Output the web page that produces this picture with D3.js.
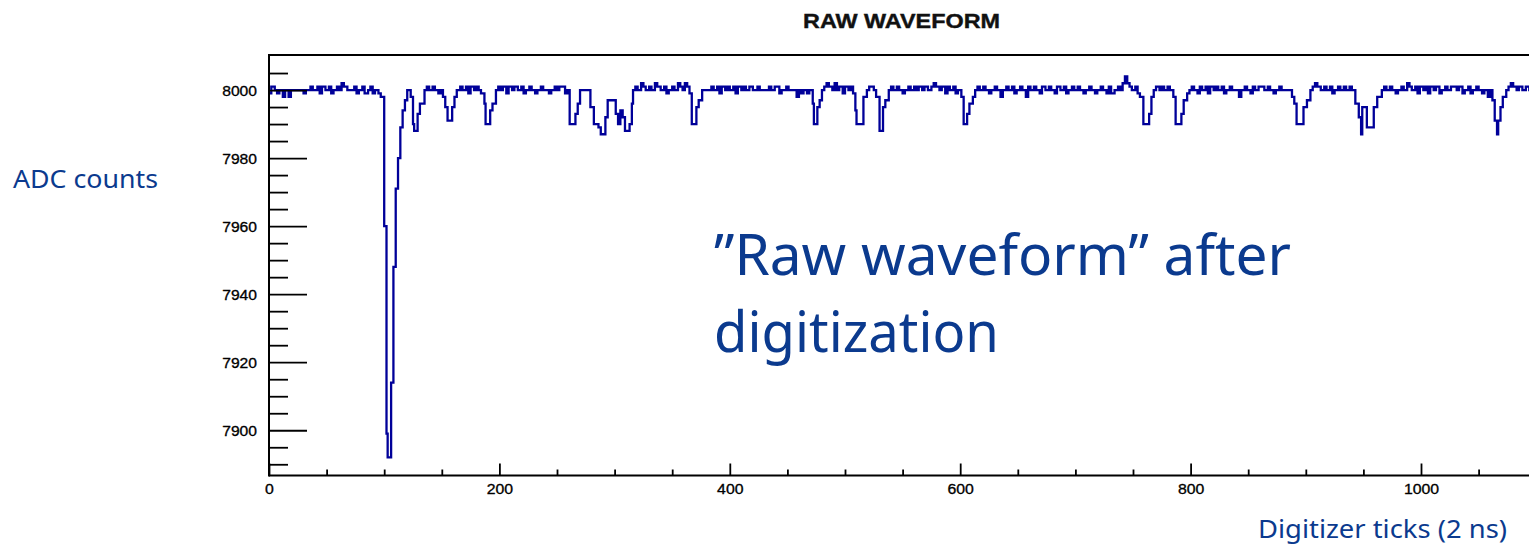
<!DOCTYPE html>
<html>
<head>
<meta charset="utf-8">
<script src="https://cdn.jsdelivr.net/npm/d3@7"></script>
<style>
  html, body { margin: 0; padding: 0; background: #ffffff; }
  svg { display: block; }
</style>
</head>
<body>
<svg id="chart" width="1529" height="547"></svg>
<script>
// Raw digitizer waveform, stored as runs: [first tick of run, ADC value]
const waveformRuns = [
  [0,7999],[2,8001],[5,8000],[7,7999],[9,8000],[12,7998],[14,8000],[17,7998],[19,8000],[22,8000],
  [30,7999],[32,8000],[36,8001],[38,8000],[42,8001],[44,7999],[46,8001],[49,8000],[52,8001],[54,7999],
  [56,8000],[59,8001],[61,8000],[63,8002],[65,8001],[68,8000],[74,8001],[76,7999],[78,8000],[81,8001],
  [83,7999],[86,8000],[88,8001],[90,7999],[92,8000],[95,7999],[97,7998],
  [100,7960],[102,7899],[103,7892],[106,7914],[108,7948],[110,7971],[112,7980],[114,7989],[116,7994],
  [118,7997],[120,8000],[123,7998],[125,7990],[126,7988],[129,7993],[131,7996],[135,8000],
  [137,8001],[139,8000],[142,8001],[144,8000],[147,7999],[149,8000],
  [151,7998],[153,7995],[155,7991],[159,7995],[161,7998],[163,8000],
  [166,8001],[168,8000],[171,8001],[173,7999],[175,8001],[178,8000],[180,8001],[182,8000],[184,7999],
  [187,7996],[188,7990],[192,7994],[194,7996],[197,8000],
  [199,8001],[201,8000],[203,8001],[206,7999],[208,8001],[211,8000],[213,8001],[216,8000],[219,8001],
  [221,7999],[223,8000],[226,8001],[228,8000],[231,7999],[233,8000],[236,8001],[238,8000],[243,7999],
  [245,8000],[248,8001],[250,8000],[252,8001],[257,7999],[259,8000],
  [261,7990],[266,7993],[268,7996],[270,8000],
  [279,7995],[282,7990],[286,7989],[288,7987],[292,7992],[294,7997],[301,7993],[303,7990],[305,7994],
  [307,7992],[309,7988],[313,7990],[315,7996],[316,8000],
  [318,8001],[320,8000],[323,8002],[325,8001],[327,8000],[330,8001],[332,8000],[335,8002],[337,8001],
  [340,8000],[343,8001],[345,7999],[347,8000],[350,8001],[352,8000],[355,8002],[357,8001],[359,8000],
  [361,8002],[363,8001],[365,7999],
  [367,7990],[371,7995],[373,7997],[376,8000],
  [384,8001],[386,8000],[389,8001],[391,7999],[393,8001],[396,8000],[398,8001],[400,8000],[403,8001],
  [405,7999],[407,8001],[410,8000],[412,8001],[414,8000],[417,8001],[420,8000],[424,8001],[426,8000],
  [434,8001],[436,8000],[439,8001],[443,7999],[445,8000],[449,8001],[451,8000],[458,7998],[460,8000],
  [462,7999],[464,8000],[467,7999],[469,8000],
  [472,7996],[473,7990],[476,7995],[478,7997],[480,8000],
  [482,8001],[484,8002],[486,8001],[489,8000],[491,8002],[493,8000],[495,8001],[498,7999],[500,8001],
  [503,8000],[505,8001],[507,7999],
  [509,7994],[510,7990],[516,7998],[519,8000],[521,8001],[525,8000],[527,7998],
  [530,7988],[533,7995],[535,7997],[538,8000],
  [540,8001],[542,8000],[545,8001],[547,8000],[550,7999],[552,8000],[555,8001],[557,8000],[560,8001],
  [562,8000],[564,8001],[567,8000],[569,8001],[572,8000],[575,8001],[577,8002],[579,8001],[582,8000],
  [584,8001],[587,7999],[589,8001],[591,8000],[594,8001],[596,7999],[598,8000],
  [601,7998],[603,7990],[606,7993],[608,7996],[611,7998],[613,8000],
  [615,8001],[617,8000],[620,8001],[622,8000],[625,7999],[627,8000],[630,8001],[632,8000],[635,7998],
  [637,8000],[640,8001],[642,8000],[645,8001],[647,7999],[649,8000],[652,8001],[654,8000],[657,7998],
  [659,8001],[661,8000],[664,8001],[666,8000],[669,7999],[671,8001],[674,8000],[677,8001],[679,8000],
  [682,7999],[684,8001],[687,8000],[690,8001],[692,7999],[694,8000],[697,8001],[699,8000],[702,8001],
  [704,8000],[707,7999],[709,8000],[712,8001],[714,8000],[717,7999],[719,8000],[722,8001],[724,8000],
  [727,7999],[729,8001],[731,7999],[734,8000],[737,8001],[739,8000],[741,8002],[743,8004],[745,8002],
  [747,8001],[749,8000],[752,8001],[754,7999],[756,7998],
  [759,7990],[764,7993],[766,7998],[768,8000],
  [770,8001],[773,8000],[775,8001],[777,8000],[780,8001],[782,8000],[785,7998],
  [787,7990],[792,7993],[794,7997],[797,7999],[799,8000],
  [801,8001],[803,8000],[806,7999],[808,8001],[810,8000],[813,8001],[815,7999],[817,8001],[820,8000],
  [822,8001],[824,8000],[827,8001],[829,7999],[831,8000],[834,8001],[836,8000],[842,7998],[844,8000],
  [847,8001],[849,8000],[852,7999],[854,8001],[856,8000],[859,8001],[864,8000],[867,8001],[869,8000],
  [872,7999],[874,8000],[877,8001],[879,8000],[888,7998],[890,7996],
  [892,7990],[898,7995],[901,7997],[904,8000],
  [906,8001],[908,8002],[910,8001],[913,8000],[916,8001],[918,8000],[921,8001],[923,7999],[925,8000],
  [928,8001],[930,8000],[933,8001],[935,8000],[938,8001],[940,8000],[943,7996],
  [946,7992],[948,7987],[949,7995],[953,7989],[959,7995],[962,7998],[966,8000],
  [968,8001],[970,8000],[973,8001],[975,8000],[978,7999],[980,8000],[983,8001],[985,8000],[988,8002],
  [990,8001],[992,8000],[995,8001],[997,7999],[999,8001],[1002,8000],[1004,8001],[1006,7999],[1008,8001],
  [1011,8000],[1013,8001],[1016,7999],[1018,8000],[1021,8001],[1023,8000],[1026,8001],[1031,8000],
  [1033,8001],[1036,7999],[1038,8000],[1041,8001],[1043,7999],[1045,8000],[1048,8001],[1050,8000],
  [1053,7999],[1055,8000],[1058,7998],[1060,8000],[1062,7997],
  [1064,7991],[1066,7987],[1067,7991],[1069,7995],[1071,7998],[1074,8000],
  [1076,8001],[1078,8002],[1080,8001],[1083,8000],[1085,8001],[1088,8000],[1091,8001],[1094,8000],
  [1097,8001]
];
const lastTick = 1100;

// Axis ticks and labels
const xMajorTicks = [0, 200, 400, 600, 800, 1000];
const xMinorTicks = [50, 100, 150, 250, 300, 350, 450, 500, 550, 650, 700, 750, 850, 900, 950, 1050];
const yMajorTicks = [7900, 7920, 7940, 7960, 7980, 8000];
const yMinorTicks = [7890, 7895, 7905, 7910, 7915, 7925, 7930, 7935, 7945, 7950, 7955,
                     7965, 7970, 7975, 7985, 7990, 7995, 8005];
const yDomain = [7886.7, 8010.3];

// Texts
const titleText = "RAW WAVEFORM";
const yTitle = "ADC counts";
const xTitle = "Digitizer ticks (2 ns)";
const noteLines = ["\u201DRaw waveform\u201D after", "digitization"];

const svg = d3.select("#chart");
svg.append("rect").attr("width", 1529).attr("height", 547).attr("fill", "#ffffff");

const plotLeft = 269, plotTop = 55, plotBottom = 475.5;
const x = d3.scaleLinear().domain([0, lastTick]).range([plotLeft, plotLeft + 1.152 * lastTick]);
const y = d3.scaleLinear().domain(yDomain).range([plotBottom, plotTop]);

const tickFont = "'Liberation Sans', Arial, Helvetica, sans-serif";
const labelBlue = "#0b3a8e";

// Waveform as a step histogram
const pts = waveformRuns.map(d => [d[0], d[1]]);
pts.push([lastTick, waveformRuns[waveformRuns.length - 1][1]]);
const stepLine = d3.line()
  .x(d => x(d[0]))
  .y(d => y(d[1]))
  .curve(d3.curveStepAfter);

svg.append("defs").append("clipPath").attr("id", "plotClip")
  .append("rect").attr("x", plotLeft).attr("y", plotTop)
  .attr("width", 1529 - plotLeft).attr("height", plotBottom - plotTop);

svg.append("path")
  .datum(pts)
  .attr("clip-path", "url(#plotClip)")
  .attr("fill", "none")
  .attr("stroke", "#000099")
  .attr("stroke-width", 2.3)
  .attr("stroke-linejoin", "miter")
  .attr("d", stepLine);

// Y axis: ticks point into the frame
const yMajor = d3.axisLeft(y).tickValues(yMajorTicks).tickSize(-38).tickPadding(12).tickFormat(d3.format("d"));
const yMinor = d3.axisLeft(y).tickValues(yMinorTicks).tickSize(-19).tickFormat("");
const gyMinor = svg.append("g").attr("transform", `translate(${plotLeft},0)`).call(yMinor);
const gyMajor = svg.append("g").attr("transform", `translate(${plotLeft},0)`).call(yMajor);

// X axis
const xMajor = d3.axisBottom(x).tickValues(xMajorTicks).tickSize(-12).tickPadding(8).tickFormat(d3.format("d"));
const xMinor = d3.axisBottom(x).tickValues(xMinorTicks).tickSize(-6).tickFormat("");
const gxMinor = svg.append("g").attr("transform", `translate(0,${plotBottom})`).call(xMinor);
const gxMajor = svg.append("g").attr("transform", `translate(0,${plotBottom})`).call(xMajor);

[gyMinor, gyMajor, gxMinor, gxMajor].forEach(g => {
  g.select(".domain").remove();
  g.selectAll(".tick line").attr("stroke", "#000").attr("stroke-width", 1.8);
});
gyMajor.selectAll(".tick text")
  .attr("font-family", tickFont).attr("font-size", 14).attr("fill", "#000")
  .attr("stroke", "#000").attr("stroke-width", 0.3)
  .attr("dy", "0.36em")
  .attr("textLength", d => String(d).length * 8.7)
  .attr("lengthAdjust", "spacingAndGlyphs");
gxMajor.selectAll(".tick text")
  .attr("font-family", tickFont).attr("font-size", 14).attr("fill", "#000")
  .attr("stroke", "#000").attr("stroke-width", 0.3)
  .attr("dy", "0.75em")
  .attr("textLength", d => String(d).length * 8.8)
  .attr("lengthAdjust", "spacingAndGlyphs");

// Frame lines
svg.append("line").attr("x1", plotLeft).attr("x2", 1529).attr("y1", plotTop).attr("y2", plotTop)
  .attr("stroke", "#000").attr("stroke-width", 2);
svg.append("line").attr("x1", plotLeft).attr("x2", 1529).attr("y1", plotBottom).attr("y2", plotBottom)
  .attr("stroke", "#000").attr("stroke-width", 2);
svg.append("line").attr("x1", plotLeft).attr("x2", plotLeft).attr("y1", plotTop - 1).attr("y2", plotBottom + 1)
  .attr("stroke", "#000").attr("stroke-width", 2);

// Title
svg.append("text")
  .attr("x", 901.5).attr("y", 28)
  .attr("text-anchor", "middle")
  .attr("font-family", tickFont).attr("font-weight", "bold").attr("font-size", 20)
  .attr("fill", "#111").attr("stroke", "#111").attr("stroke-width", 0.4)
  .attr("textLength", 197).attr("lengthAdjust", "spacingAndGlyphs")
  .text(titleText);

const annoFont = "'Noto Sans', 'Open Sans', sans-serif";

// Axis titles
svg.append("text")
  .attr("x", 13).attr("y", 188)
  .attr("font-family", annoFont).attr("font-size", 25).attr("fill", labelBlue)
  .attr("textLength", 145).attr("lengthAdjust", "spacingAndGlyphs")
  .text(yTitle);

svg.append("text")
  .attr("x", 1258).attr("y", 538)
  .attr("font-family", annoFont).attr("font-size", 25).attr("fill", labelBlue)
  .attr("textLength", 249).attr("lengthAdjust", "spacingAndGlyphs")
  .text(xTitle);

// Annotation inside the plot
const noteWidths = [577, 285];
const noteBaselines = [275, 352];
noteLines.forEach((t, i) => {
  svg.append("text")
    .attr("x", 714).attr("y", noteBaselines[i])
    .attr("font-family", annoFont).attr("font-size", 57).attr("fill", labelBlue)
    .attr("textLength", noteWidths[i]).attr("lengthAdjust", "spacingAndGlyphs")
    .text(t);
});
</script>
</body>
</html>
